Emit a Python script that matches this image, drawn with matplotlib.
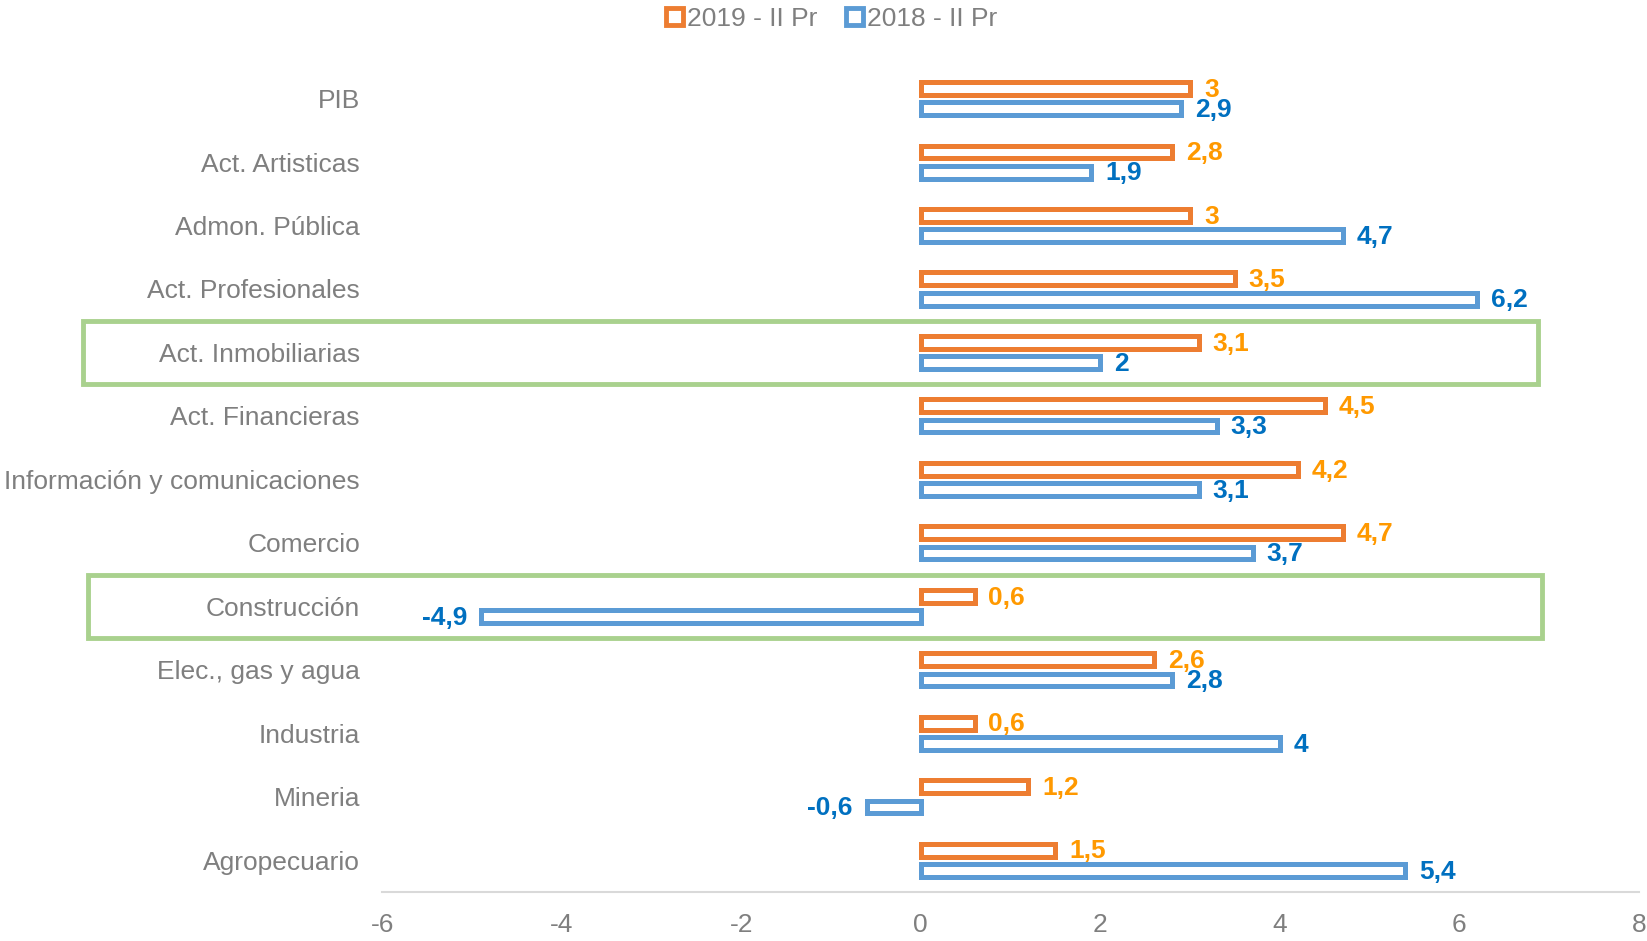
import matplotlib
matplotlib.use("Agg")
import matplotlib.pyplot as plt
import matplotlib.transforms as mtransforms
from matplotlib.patches import Patch, Rectangle
import numpy as np

plt.rcParams['font.family'] = ['Liberation Sans', 'DejaVu Sans']

categories = ["PIB", "Act. Artisticas", "Admon. Pública", "Act. Profesionales",
              "Act. Inmobiliarias", "Act. Financieras", "Información y comunicaciones",
              "Comercio", "Construcción", "Elec., gas y agua", "Industria",
              "Mineria", "Agropecuario"]
values_2019 = [3, 2.8, 3, 3.5, 3.1, 4.5, 4.2, 4.7, 0.6, 2.6, 0.6, 1.2, 1.5]
values_2018 = [2.9, 1.9, 4.7, 6.2, 2, 3.3, 3.1, 3.7, -4.9, 2.8, 4, -0.6, 5.4]
series_names = ["2019 - II Pr", "2018 - II Pr"]
highlighted = ["Act. Inmobiliarias", "Construcción"]
x_ticks = [-6, -4, -2, 0, 2, 4, 6, 8]

c_or = "#ED7D31"
c_bl = "#5B9BD5"
t_or = "#FF9900"
t_bl = "#0070C0"
gray = "#7F7F7F"

fig = plt.figure(figsize=(16.47, 9.41), dpi=100)
ax = fig.add_axes([0.232, 0.052, 0.763, 0.877])

n = len(categories)
y = np.arange(n)
off = 0.16
h = 0.2
ax.barh(y - off, values_2019, height=h, facecolor="white", edgecolor=c_or, linewidth=3.6, zorder=3)
ax.barh(y + off, values_2018, height=h, facecolor="white", edgecolor=c_bl, linewidth=3.6, zorder=3)

def fmt(v):
    s = f"{v:g}"
    return s.replace(".", ",")

for yi, v in zip(y - off, values_2019):
    ax.annotate(fmt(v), (v, yi + 0.02), xytext=(10 if v >= 0 else -10, 0), textcoords="offset points",
                ha="left" if v >= 0 else "right", va="center", color=t_or,
                fontsize=19, fontweight="bold")
for yi, v in zip(y + off, values_2018):
    ax.annotate(fmt(v), (v, yi + 0.02), xytext=(10 if v >= 0 else -10, 0), textcoords="offset points",
                ha="left" if v >= 0 else "right", va="center", color=t_bl,
                fontsize=19, fontweight="bold")

ax.set_xlim(-6, 8)
ax.set_ylim(n - 0.5, -0.5)
ax.set_xticks(x_ticks)
ax.set_xticklabels([str(t) for t in x_ticks])
ax.set_yticks(y)
ax.set_yticklabels(categories)
ax.tick_params(axis="both", length=0, labelsize=19, labelcolor=gray)
ax.tick_params(axis="x", pad=15)
ax.tick_params(axis="y", pad=16)
for s in ["top", "right", "left"]:
    ax.spines[s].set_visible(False)
ax.spines["bottom"].set_color("#D9D9D9")
ax.spines["bottom"].set_linewidth(1.5)

trans = mtransforms.blended_transform_factory(ax.transAxes, ax.transData)
box_x = {"Act. Inmobiliarias": (-0.238, 0.920), "Construcción": (-0.234, 0.923)}
for cat in highlighted:
    i = categories.index(cat)
    x0, x1 = box_x[cat]
    r = Rectangle((x0, i - 0.49), x1 - x0, 0.98, transform=trans, fill=False,
                  edgecolor="#A9D18E", linewidth=3.5, clip_on=False, zorder=5)
    ax.add_patch(r)

handles = [Patch(facecolor="white", edgecolor=c_or, linewidth=3.5),
           Patch(facecolor="white", edgecolor=c_bl, linewidth=3.5)]
leg = fig.legend(handles, series_names, loc="upper center", bbox_to_anchor=(0.505, 1.018), ncol=2,
                 frameon=False, fontsize=19, handlelength=0.65, handleheight=0.65,
                 handletextpad=0.15, columnspacing=1.1)
for t in leg.get_texts():
    t.set_color(gray)

fig.savefig("out.png", dpi=100)
